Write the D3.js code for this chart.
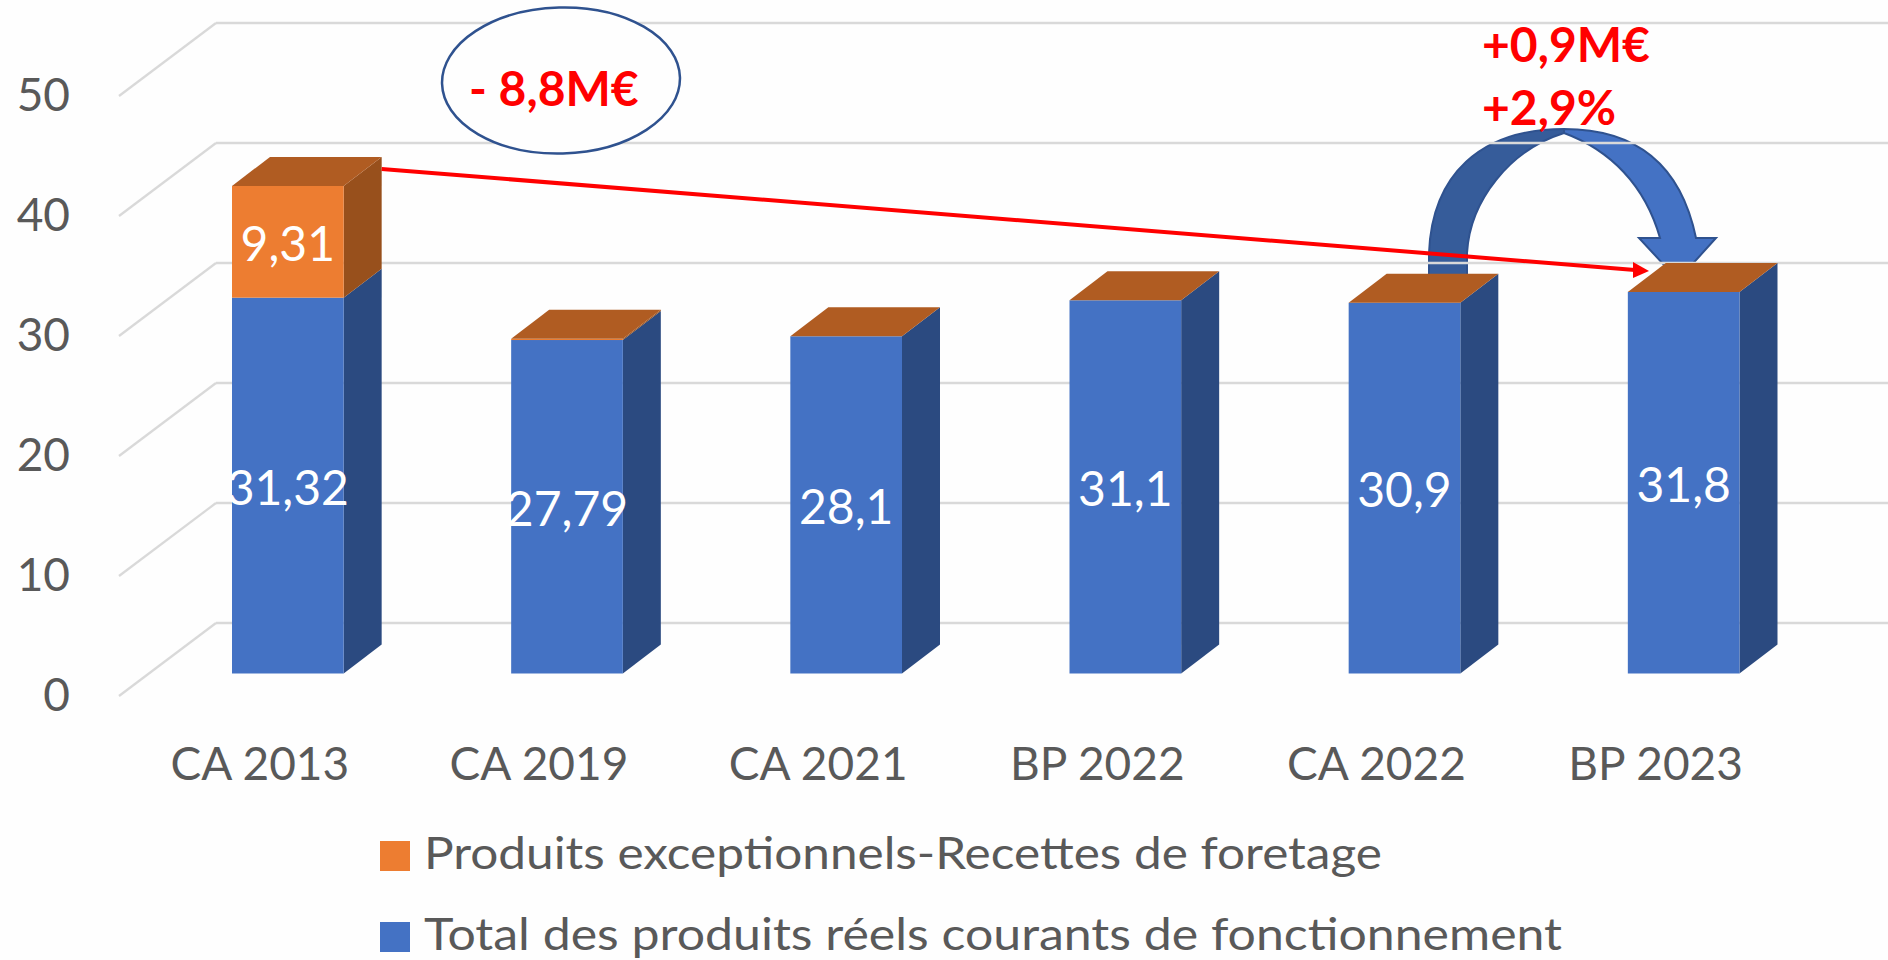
<!DOCTYPE html>
<html><head><meta charset="utf-8">
<script src="https://cdn.jsdelivr.net/npm/d3@7/dist/d3.min.js"></script>
<style>html,body{margin:0;padding:0;background:#fefefe}svg{display:block}text{font-family:Lato,"Open Sans",sans-serif}</style>
</head><body><svg id="c" width="1888" height="960"></svg>
<script>
const categories = ["CA 2013","CA 2019","CA 2021","BP 2022","CA 2022","BP 2023"];
const totalProduits = [31.32,27.79,28.1,31.1,30.9,31.8];
const produitsExceptionnels = [9.31,0.1,0,0,0,0];
const labelsTotal = ["31,32","27,79","28,1","31,1","30,9","31,8"];
const labelsExceptionnels = ["9,31",null,null,null,null,null];
const yTicks = [0,10,20,30,40,50];
const legendLabels = ["Produits exceptionnels-Recettes de foretage","Total des produits réels courants de fonctionnement"];

const svg = d3.select("#c");
const y = d3.scaleLinear().domain([0,50]).range([673.5,73.5]);
const x = d3.scaleBand().domain(categories).range([232,1739.5]).paddingInner(0.6).paddingOuter(0);
const grey="#595959", BLUE="#4472C4", BLUE_SIDE="#2B4A80", OR="#ED7D31", OR_SIDE="#98501C", OR_TOP="#B05C22";
const dx=38, dy=29;           // bar depth
const wallX0=119, wallX1=216, wallFront=22.5, wallBack=-50.5;

// curved arrow (below the gridlines, which show through it)
const outline="#2F528F";
svg.append("path").attr("d","M1429,280 L1429,253 C1432,175 1480,129 1564,129 L1564,133 C1510,150 1470,200 1467,253 L1467,280 Z")
  .attr("fill","#365C9A").attr("stroke",outline).attr("stroke-width",2);
svg.append("path").attr("d","M1564,129 C1650,129 1684,180 1696,238 L1716,238 L1678,280 L1639,238 L1660,238 C1645,185 1610,150 1564,133 Z")
  .attr("fill",BLUE).attr("stroke",outline).attr("stroke-width",2);

// gridlines: back wall and side wall
const g = svg.append("g");
g.selectAll("line.b").data(yTicks).join("line").attr("class","b")
  .attr("x1",wallX0+97).attr("x2",1888)
  .attr("y1",d=>y(d)+wallBack).attr("y2",d=>y(d)+wallBack)
  .attr("stroke","#D9D9D9").attr("stroke-width",2.5);
g.selectAll("line.s").data(yTicks).join("line").attr("class","s")
  .attr("x1",wallX0).attr("x2",wallX1)
  .attr("y1",d=>y(d)+wallFront).attr("y2",d=>y(d)+wallBack)
  .attr("stroke","#D9D9D9").attr("stroke-width",2.2);

// ellipse callout
svg.append("ellipse").attr("cx",561).attr("cy",80.5).attr("rx",119).attr("ry",73)
  .attr("transform","rotate(-1.5 561 80.5)")
  .attr("fill","#fefefe").attr("stroke",outline).attr("stroke-width",2.5);

// y axis tick labels
svg.selectAll("text.yt").data(yTicks).join("text").attr("class","yt")
  .attr("x",70).attr("y",d=>y(d)+wallFront+15).attr("text-anchor","end")
  .attr("font-size",46).attr("fill",grey).text(d=>d);

// bars
function quad(a){const p=d3.path();a.forEach((q,i)=>i?p.lineTo(q[0],q[1]):p.moveTo(q[0],q[1]));p.closePath();return p.toString();}
const bars = svg.selectAll("g.bar").data(categories).join("g").attr("class","bar");
bars.each(function(c,i){
  const s=d3.select(this), xl=x(c), xr=xl+x.bandwidth();
  const v0=totalProduits[i], v1=v0+produitsExceptionnels[i];
  // side faces
  s.append("path").attr("d",quad([[xr,y(0)],[xr+dx,y(0)-dy],[xr+dx,y(v0)-dy],[xr,y(v0)]])).attr("fill",BLUE_SIDE);
  if(produitsExceptionnels[i]>0) s.append("path").attr("d",quad([[xr,y(v0)],[xr+dx,y(v0)-dy],[xr+dx,y(v1)-dy],[xr,y(v1)]])).attr("fill",OR_SIDE);
  // front faces
  s.append("rect").attr("x",xl).attr("width",x.bandwidth()).attr("y",y(v0)).attr("height",y(0)-y(v0)).attr("fill",BLUE);
  if(produitsExceptionnels[i]>0) s.append("rect").attr("x",xl).attr("width",x.bandwidth()).attr("y",y(v1)).attr("height",y(v0)-y(v1)).attr("fill",OR);
  // top face
  s.append("path").attr("d",quad([[xl,y(v1)],[xl+dx,y(v1)-dy],[xr+dx,y(v1)-dy],[xr,y(v1)]])).attr("fill",OR_TOP);
});

// red trend arrow
const lx0=x(categories[0])+x.bandwidth()+dx, ly0=y(totalProduits[0]+produitsExceptionnels[0])-dy+12;
const lx1=1649, ly1=271;
svg.append("line").attr("x1",lx0).attr("y1",ly0).attr("x2",lx1-14).attr("y2",ly1-1).attr("stroke","#FF0000").attr("stroke-width",4);
svg.append("path").attr("d",`M${lx1},${ly1} L${lx1-16},${ly1-9} L${lx1-16},${ly1+7} Z`).attr("fill","#FF0000");

// data labels
svg.selectAll("text.lt").data(categories).join("text").attr("class","lt")
  .attr("x",c=>x(c)+x.bandwidth()/2).attr("y",(c,i)=>y(totalProduits[i]/2)+19)
  .attr("text-anchor","middle").attr("font-size",48).attr("fill","#fff").text((c,i)=>labelsTotal[i]);
svg.selectAll("text.le").data(categories.filter((c,i)=>labelsExceptionnels[i])).join("text").attr("class","le")
  .attr("x",c=>x(c)+x.bandwidth()/2)
  .attr("y",c=>{const i=categories.indexOf(c);return y(totalProduits[i]+produitsExceptionnels[i]/2)+19;})
  .attr("text-anchor","middle").attr("font-size",48).attr("fill","#fff")
  .text(c=>labelsExceptionnels[categories.indexOf(c)]);

// category axis
svg.selectAll("text.xt").data(categories).join("text").attr("class","xt")
  .attr("x",c=>x(c)+x.bandwidth()/2-28).attr("y",780).attr("text-anchor","middle")
  .attr("font-size",46).attr("fill",grey).text(c=>c);

// legend
const swatches=[OR,BLUE], legY=[841,922], legW=[958,1138];
legendLabels.forEach((t,i)=>{
  svg.append("rect").attr("x",380).attr("y",legY[i]).attr("width",30).attr("height",30).attr("fill",swatches[i]);
  svg.append("text").attr("x",424).attr("y",legY[i]+28).attr("font-size",45).attr("fill",grey)
    .attr("textLength",legW[i]).attr("lengthAdjust","spacingAndGlyphs").text(t);
});

// red annotations
[["- 8,8M€",469,106],["+0,9M€",1482,62],["+2,9%",1482,125]].forEach(a=>{
  svg.append("text").attr("x",a[1]).attr("y",a[2]).attr("font-size",48).attr("font-weight",700).attr("fill","#FF0000").text(a[0]);
});
</script></body></html>
